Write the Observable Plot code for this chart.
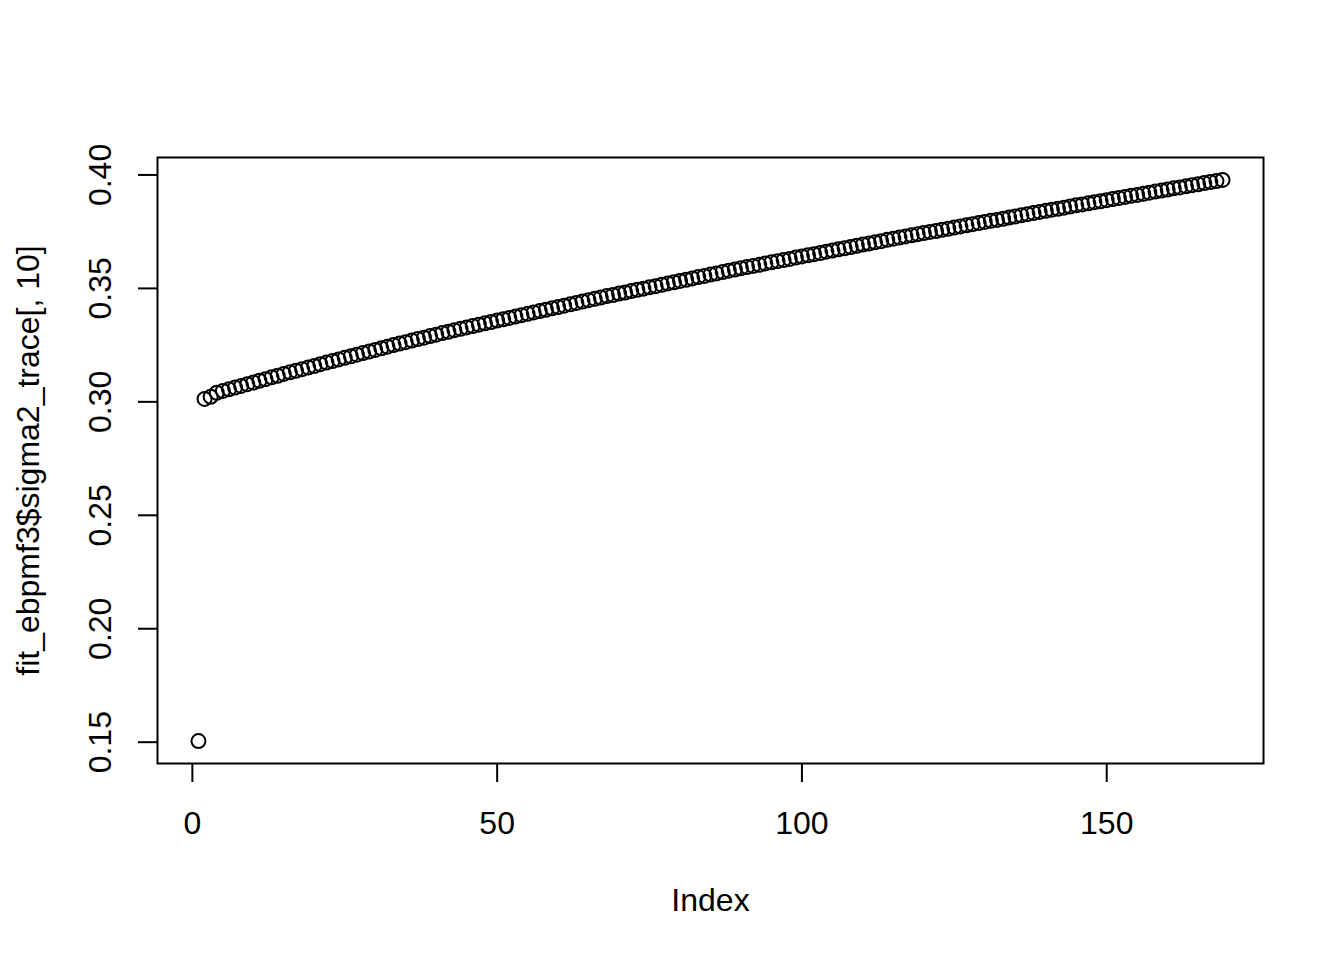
<!DOCTYPE html>
<html>
<head>
<meta charset="utf-8">
<script src="https://cdn.jsdelivr.net/npm/d3@7"></script>
<script src="https://cdn.jsdelivr.net/npm/@observablehq/plot@0.6"></script>
<style>
  html, body { margin: 0; padding: 0; background: #ffffff; }
</style>
</head>
<body>
<div id="chart"></div>
<script>
// sigma2_trace[, 10] values, index 1..169
const sigma2Values = [
  0.1505, 0.3013, 0.3022, 0.3040, 0.3048, 0.3055, 0.3063, 0.3070, 0.3078, 0.3085,
  0.3093, 0.3100, 0.3108, 0.3115, 0.3123, 0.3130, 0.3137, 0.3144, 0.3151, 0.3158,
  0.3166, 0.3173, 0.3180, 0.3187, 0.3194, 0.3201, 0.3208, 0.3215, 0.3222, 0.3229,
  0.3236, 0.3243, 0.3250, 0.3257, 0.3263, 0.3270, 0.3277, 0.3283, 0.3290, 0.3296,
  0.3303, 0.3309, 0.3316, 0.3322, 0.3328, 0.3334, 0.3340, 0.3346, 0.3352, 0.3358,
  0.3364, 0.3370, 0.3376, 0.3382, 0.3388, 0.3394, 0.3400, 0.3406, 0.3412, 0.3418,
  0.3424, 0.3430, 0.3436, 0.3442, 0.3448, 0.3454, 0.3460, 0.3466, 0.3471, 0.3477,
  0.3482, 0.3488, 0.3494, 0.3499, 0.3505, 0.3510, 0.3516, 0.3522, 0.3527, 0.3533,
  0.3538, 0.3544, 0.3550, 0.3555, 0.3561, 0.3566, 0.3572, 0.3578, 0.3583, 0.3589,
  0.3594, 0.3599, 0.3604, 0.3610, 0.3615, 0.3620, 0.3625, 0.3630, 0.3636, 0.3641,
  0.3646, 0.3651, 0.3656, 0.3662, 0.3667, 0.3672, 0.3677, 0.3682, 0.3688, 0.3693,
  0.3698, 0.3703, 0.3708, 0.3714, 0.3719, 0.3724, 0.3729, 0.3734, 0.3739, 0.3744,
  0.3749, 0.3753, 0.3758, 0.3763, 0.3768, 0.3773, 0.3778, 0.3783, 0.3788, 0.3793,
  0.3798, 0.3802, 0.3807, 0.3812, 0.3817, 0.3822, 0.3827, 0.3832, 0.3837, 0.3842,
  0.3847, 0.3851, 0.3856, 0.3861, 0.3866, 0.3870, 0.3875, 0.3880, 0.3884, 0.3889,
  0.3894, 0.3898, 0.3903, 0.3908, 0.3912, 0.3917, 0.3922, 0.3927, 0.3931, 0.3936,
  0.3941, 0.3945, 0.3950, 0.3955, 0.3959, 0.3964, 0.3969, 0.3973, 0.3978
];
const xTicks = [0, 50, 100, 150];
const yTicks = [0.15, 0.20, 0.25, 0.30, 0.35, 0.40];
const xTitle = "Index";
const yTitle = "fit_ebpmf3$sigma2_trace[, 10]";

const data = sigma2Values.map((v, k) => ({index: k + 1, value: v}));

// R-style 4% axis extension
function padDomain(lo, hi) { const p = (hi - lo) * 0.04; return [lo - p, hi + p]; }
const xDomain = padDomain(1, sigma2Values.length);
const yDomain = padDomain(d3.min(sigma2Values), d3.max(sigma2Values));

const FONT = "Liberation Sans, Arial, Helvetica, sans-serif";

const chart = Plot.plot({
  width: 1344,
  height: 960,
  marginTop: 157,
  marginRight: 81,
  marginBottom: 197,
  marginLeft: 157,
  style: {fontFamily: FONT, fontSize: "32px", background: "#ffffff", color: "#000000"},
  x: {domain: xDomain, axis: null, label: null},
  y: {domain: yDomain, axis: null, label: null},
  marks: [
    Plot.axisX({ticks: xTicks, tickSize: 19, tickFormat: () => "", strokeWidth: 2, label: null}),
    Plot.axisY({ticks: yTicks, tickSize: 19, tickFormat: () => "", strokeWidth: 2, label: null}),
    Plot.text(xTicks, {x: d => d, frameAnchor: "bottom", dy: 60, text: d => String(d),
      fontSize: 32, lineAnchor: "middle", fill: "black"}),
    Plot.text(yTicks, {y: d => d, frameAnchor: "left", dx: -57, text: d => d3.format(".2f")(d),
      fontSize: 32, rotate: -90, textAnchor: "middle", lineAnchor: "middle", fill: "black"}),
    Plot.text([xTitle], {frameAnchor: "bottom", dy: 137, text: d => d, fontSize: 32,
      lineAnchor: "middle", fill: "black"}),
    Plot.text([yTitle], {frameAnchor: "left", dx: -129, text: d => d, fontSize: 32,
      rotate: -90, textAnchor: "middle", lineAnchor: "middle", fill: "black"}),
    Plot.frame({stroke: "black", strokeWidth: 2}),
    Plot.dot(data, {x: "index", y: "value", r: 7, stroke: "black", strokeWidth: 2, fill: "none"})
  ]
});
document.getElementById("chart").appendChild(chart);
</script>
</body>
</html>
